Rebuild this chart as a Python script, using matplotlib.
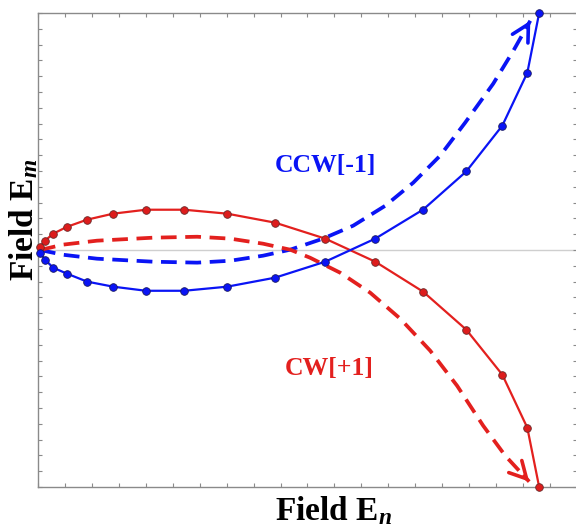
import matplotlib
matplotlib.use("Agg")
import matplotlib.pyplot as plt
from matplotlib.ticker import MultipleLocator

plt.rcParams["font.family"] = ["Liberation Serif", "DejaVu Serif"]
plt.rcParams["mathtext.fontset"] = "custom"
plt.rcParams["mathtext.rm"] = "Liberation Serif:bold"
plt.rcParams["mathtext.it"] = "Liberation Serif:bold:italic"
plt.rcParams["mathtext.bf"] = "Liberation Serif:bold"

# solid traces with markers
cw_x = [0.06, 0.25, 0.55, 1.07, 1.81, 2.78, 4.00, 5.42, 7.02, 8.80,
        10.66, 12.52, 14.30, 15.90, 17.24, 18.17, 18.61]
cw_y = [0.21, 0.59, 1.03, 1.47, 1.92, 2.30, 2.55, 2.55, 2.30, 1.73,
        0.72, -0.74, -2.64, -5.04, -7.89, -11.25, -15.0]
ccw_x = [0.06, 0.25, 0.55, 1.07, 1.81, 2.78, 4.00, 5.42, 7.02, 8.80,
         10.66, 12.52, 14.30, 15.90, 17.24, 18.17, 18.61]
ccw_y = [-0.17, -0.61, -1.12, -1.50, -2.00, -2.32, -2.58, -2.58, -2.32, -1.75,
         -0.74, 0.72, 2.56, 4.97, 7.87, 11.22, 15.0]

# dashed guide curves
cw_guide_x = [0.06, 0.92, 2.18, 4.26, 5.90, 7.13, 8.35, 9.36, 10.10, 11.22,
              12.33, 13.45, 14.56, 15.56, 16.53, 17.35, 18.24]
cw_guide_y = [0.0, 0.34, 0.59, 0.78, 0.84, 0.72, 0.40, 0.02, -0.49, -1.44,
              -2.70, -4.35, -6.37, -8.59, -11.12, -13.02, -14.66]
ccw_guide_x = [0.06, 0.92, 2.18, 4.26, 5.90, 7.13, 8.35, 9.36, 10.58, 11.70,
               12.89, 13.93, 14.93, 15.86, 16.90, 17.65, 18.28]
ccw_guide_y = [0.0, -0.30, -0.55, -0.74, -0.80, -0.68, -0.36, 0.02, 0.72, 1.54,
               2.80, 4.26, 5.97, 8.06, 10.52, 12.61, 14.51]

RED = "#e3201e"
BLUE = "#0a14f5"

fig = plt.figure(figsize=(5.76, 5.27), dpi=100)
ax = fig.add_axes([0.0665, 0.0759, 0.9345, 0.8994])

ax.axhline(0, color="#cfcfcf", linewidth=1.0, zorder=1)

ax.plot(ccw_guide_x, ccw_guide_y, color=BLUE, linewidth=2.7,
        dashes=(4.2, 2.3), zorder=2)
ax.plot(cw_guide_x, cw_guide_y, color=RED, linewidth=2.7,
        dashes=(4.2, 2.3), zorder=2)

for gx, gy, col in [(ccw_guide_x, ccw_guide_y, BLUE),
                    (cw_guide_x, cw_guide_y, RED)]:
    ax.annotate("", xy=(gx[-1], gy[-1]), xytext=(gx[-2], gy[-2]),
                arrowprops=dict(arrowstyle="->,head_length=0.75,head_width=0.4",
                                color=col, linewidth=2.6, shrinkA=20, shrinkB=0,
                                mutation_scale=16),
                zorder=3)

ax.plot(cw_x, cw_y, color=RED, linewidth=1.6, marker="o", markersize=5.5,
        markerfacecolor="#dd1c1c", markeredgecolor="#6a2a2a",
        markeredgewidth=0.6, zorder=4, clip_on=False)
ax.plot(ccw_x, ccw_y, color=BLUE, linewidth=1.6, marker="o", markersize=5.5,
        markerfacecolor=BLUE, markeredgecolor="#1a1a60",
        markeredgewidth=0.6, zorder=5, clip_on=False)

ax.text(10.66, 5.35, "CCW[-1]", color=BLUE, fontsize=18.5, fontweight="bold",
        ha="center", va="center")
ax.text(10.8, -7.5, "CW[+1]", color=RED, fontsize=18.5, fontweight="bold",
        ha="center", va="center")

ax.set_xlim(0, 20)
ax.set_ylim(-15, 15)
ax.xaxis.set_major_locator(MultipleLocator(1))
ax.yaxis.set_major_locator(MultipleLocator(1))
ax.tick_params(direction="in", length=3, width=0.8, color="#8a8a8a",
               top=True, right=True, labelbottom=False, labelleft=False)
for sp in ax.spines.values():
    sp.set_color("#8a8a8a")
    sp.set_linewidth(1.0)

ax.set_xlabel(r"Field E$_{n}$", fontsize=24, fontweight="bold")
ax.set_ylabel(r"Field E$_{m}$", fontsize=24, fontweight="bold")
ax.xaxis.set_label_coords(0.548, -0.015, transform=ax.transAxes)
ax.yaxis.set_label_coords(-0.01, 0.563, transform=ax.transAxes)
ax.xaxis.label.set_va("top")
ax.yaxis.label.set_va("baseline")

fig.savefig("out.png", dpi=100)
